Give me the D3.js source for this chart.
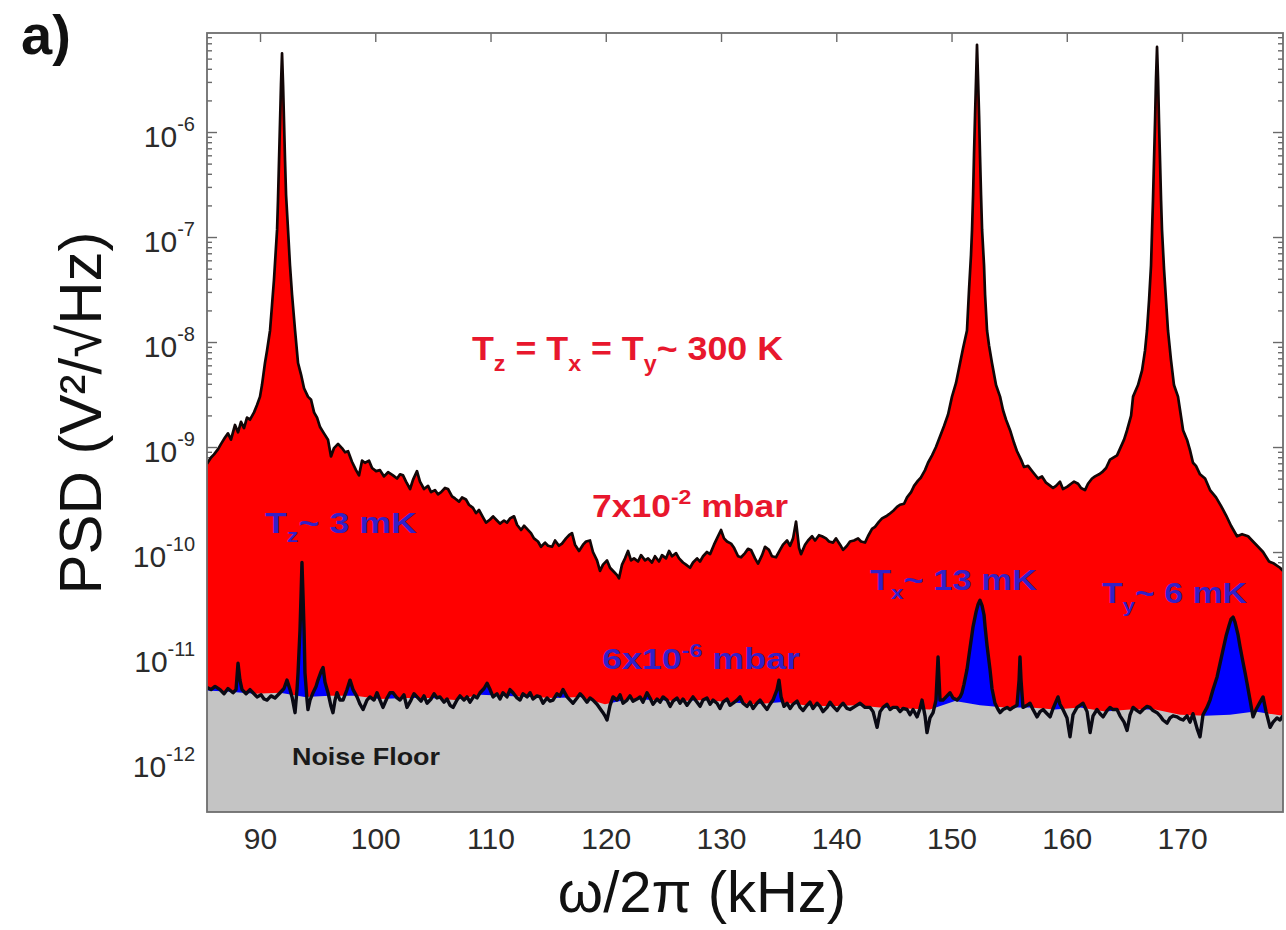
<!DOCTYPE html>
<html>
<head>
<meta charset="utf-8">
<script src="https://cdn.jsdelivr.net/npm/d3@7"></script>
<style>
  html, body { margin: 0; padding: 0; background: #fff; }
  svg { display: block; }
</style>
</head>
<body>
<svg id="chart" width="1286" height="930"></svg>
<script>
// ---------------------------------------------------------------------------
// Power spectral density of the trapped particle, three motional modes (z, x, y)
// PSD values are stored as log10(PSD / (V²/√Hz)); frequencies in kHz.
// ---------------------------------------------------------------------------

// Spectrum at 7x10^-2 mbar (room-temperature motion)
const redFreq = [
  85.40,85.75,86.01,86.36,86.62,86.96,87.22,87.48,87.83,88.09,
  88.35,88.61,88.87,89.13,89.48,89.74,90.00,90.17,90.43,90.61,
  90.87,91.04,91.21,91.48,91.56,91.65,91.74,91.82,91.91,92.00,
  92.08,92.17,92.26,92.43,92.60,92.78,93.04,93.30,93.56,93.82,
  94.16,94.43,94.69,94.95,95.21,95.55,95.90,96.16,96.42,96.77,
  97.11,97.38,97.64,97.98,98.33,98.59,98.85,99.11,99.46,99.72,
  100.07,100.41,100.76,101.11,101.54,101.89,102.15,102.41,102.67,103.02,
  103.28,103.62,103.88,104.23,104.58,104.84,105.18,105.44,105.71,106.05,
  106.31,106.66,106.92,107.27,107.53,107.87,108.13,108.48,108.74,109.00,
  109.35,109.61,109.96,110.22,110.56,110.82,111.17,111.43,111.69,112.04,
  112.30,112.65,112.91,113.17,113.51,113.77,114.12,114.38,114.73,114.99,
  115.34,115.60,115.94,116.20,116.55,116.81,117.07,117.33,117.68,118.03,
  118.29,118.63,118.89,119.24,119.50,119.76,120.11,120.37,120.72,120.98,
  121.15,121.41,121.67,121.93,122.19,122.45,122.80,123.06,123.41,123.67,
  124.01,124.27,124.62,124.88,125.23,125.49,125.75,126.10,126.36,126.70,
  126.96,127.31,127.57,127.92,128.18,128.44,128.78,129.05,129.39,129.65,
  130.00,130.26,130.52,130.87,131.13,131.48,131.74,132.08,132.34,132.60,
  132.95,133.21,133.56,133.82,134.16,134.42,134.77,135.12,135.38,135.73,
  135.99,136.25,136.51,136.77,136.94,137.29,137.55,137.90,138.16,138.50,
  138.76,139.11,139.37,139.72,139.98,140.33,140.59,140.93,141.19,141.54,
  141.89,142.15,142.49,142.75,143.10,143.36,143.71,143.97,144.32,144.58,
  144.92,145.27,145.53,145.88,146.14,146.49,146.75,147.09,147.35,147.70,
  147.96,148.31,148.65,149.00,149.35,149.70,150.04,150.39,150.74,151.00,
  151.34,151.52,151.69,151.78,151.87,151.95,152.04,152.13,152.21,152.30,
  152.39,152.47,152.56,152.65,152.82,152.91,153.08,153.25,153.51,153.86,
  154.21,154.47,154.73,155.08,155.42,155.68,156.03,156.29,156.64,157.07,
  157.51,157.85,158.20,158.46,158.81,159.07,159.41,159.67,160.02,160.37,
  160.63,160.98,161.24,161.58,161.84,162.19,162.45,162.80,163.06,163.41,
  163.75,164.36,164.97,165.23,165.58,165.75,166.18,166.53,166.79,166.96,
  167.14,167.31,167.40,167.48,167.57,167.66,167.74,167.83,167.92,168.00,
  168.09,168.18,168.26,168.44,168.61,168.78,169.04,169.30,169.65,169.83,
  170.09,170.43,170.69,170.95,171.21,171.56,172.00,172.43,172.95,173.38,
  173.82,174.25,174.77,175.21,175.73,176.16,176.60,177.03,177.55,177.98,178.50,178.76
];
const redLogPSD = [
  -9.16,-9.10,-9.07,-9.02,-8.97,-8.91,-8.87,-8.93,-8.79,-8.86,
  -8.76,-8.82,-8.72,-8.74,-8.67,-8.60,-8.52,-8.41,-8.20,-8.08,
  -7.89,-7.65,-7.41,-6.93,-6.65,-6.27,-5.89,-5.55,-5.25,-5.55,
  -5.89,-6.27,-6.60,-6.93,-7.27,-7.55,-7.89,-8.20,-8.31,-8.44,
  -8.52,-8.55,-8.67,-8.72,-8.81,-8.87,-8.93,-9.09,-9.01,-8.97,
  -9.01,-9.05,-9.04,-9.14,-9.22,-9.27,-9.13,-9.15,-9.13,-9.20,
  -9.23,-9.22,-9.28,-9.24,-9.27,-9.30,-9.26,-9.27,-9.33,-9.40,
  -9.31,-9.23,-9.33,-9.40,-9.37,-9.43,-9.41,-9.45,-9.43,-9.39,
  -9.40,-9.47,-9.49,-9.52,-9.48,-9.50,-9.55,-9.58,-9.63,-9.60,
  -9.67,-9.72,-9.69,-9.66,-9.70,-9.73,-9.70,-9.72,-9.68,-9.66,
  -9.74,-9.79,-9.75,-9.78,-9.82,-9.87,-9.90,-9.95,-9.91,-9.94,
  -9.95,-9.89,-9.94,-9.92,-9.87,-9.84,-9.82,-9.93,-9.99,-9.93,
  -9.90,-9.89,-10.00,-10.08,-10.18,-10.12,-10.08,-10.15,-10.19,-10.22,
  -10.25,-10.12,-10.06,-9.99,-10.08,-10.06,-10.09,-10.03,-10.08,-10.06,
  -10.10,-10.04,-10.09,-10.03,-10.06,-9.99,-10.04,-10.01,-10.06,-10.10,
  -10.12,-10.15,-10.10,-10.06,-10.09,-10.04,-10.00,-10.02,-9.93,-9.87,
  -9.79,-9.87,-9.90,-9.92,-9.96,-10.04,-10.05,-10.01,-9.97,-9.98,
  -10.06,-10.11,-10.03,-9.95,-9.98,-10.04,-10.05,-9.98,-9.93,-9.89,
  -9.94,-9.87,-9.71,-9.96,-10.02,-9.93,-9.89,-9.85,-9.89,-9.84,
  -9.85,-9.87,-9.90,-9.91,-9.87,-9.93,-9.98,-9.94,-9.90,-9.89,
  -9.87,-9.90,-9.91,-9.85,-9.78,-9.76,-9.71,-9.68,-9.66,-9.64,
  -9.61,-9.57,-9.55,-9.54,-9.48,-9.43,-9.37,-9.32,-9.29,-9.22,
  -9.15,-9.08,-9.00,-8.90,-8.80,-8.69,-8.52,-8.39,-8.20,-8.06,
  -7.89,-7.50,-7.17,-6.93,-6.60,-6.22,-5.84,-5.49,-5.17,-5.49,
  -5.84,-6.22,-6.60,-6.93,-7.27,-7.55,-7.89,-8.03,-8.20,-8.41,
  -8.52,-8.65,-8.74,-8.84,-8.96,-9.04,-9.12,-9.19,-9.18,-9.24,
  -9.30,-9.28,-9.34,-9.36,-9.39,-9.37,-9.33,-9.40,-9.38,-9.35,
  -9.33,-9.35,-9.39,-9.41,-9.35,-9.30,-9.28,-9.26,-9.24,-9.20,
  -9.12,-9.08,-8.93,-8.84,-8.70,-8.52,-8.41,-8.27,-8.08,-7.89,
  -7.60,-7.27,-6.93,-6.65,-6.27,-5.89,-5.50,-5.19,-5.50,-5.89,
  -6.27,-6.65,-6.93,-7.31,-7.60,-7.89,-8.17,-8.41,-8.52,-8.65,
  -8.84,-8.93,-9.03,-9.15,-9.18,-9.26,-9.30,-9.41,-9.48,-9.56,
  -9.65,-9.75,-9.85,-9.83,-9.85,-9.90,-9.95,-10.00,-10.09,-10.11,-10.15,-10.18
];

// Spectrum at 6x10^-6 mbar (feedback-cooled motion)
const blueFreq = [
  85.40,85.75,86.10,86.53,86.88,87.22,87.66,87.92,88.09,88.26,
  88.44,88.79,89.13,89.39,89.74,90.09,90.35,90.61,90.95,91.30,
  91.74,92.08,92.34,92.60,92.78,93.04,93.21,93.30,93.47,93.56,
  93.64,93.73,93.82,93.90,94.08,94.16,94.34,94.60,94.86,95.03,
  95.29,95.47,95.64,95.90,96.16,96.33,96.51,96.68,96.94,97.20,
  97.55,97.81,98.07,98.42,98.68,98.94,99.28,99.54,99.89,100.15,
  100.41,100.67,101.02,101.28,101.54,101.89,102.15,102.49,102.75,103.10,
  103.36,103.62,103.97,104.23,104.49,104.84,105.10,105.36,105.62,105.97,
  106.23,106.49,106.75,107.09,107.35,107.70,107.96,108.22,108.57,108.83,
  109.09,109.44,109.70,109.96,110.22,110.56,110.82,111.08,111.43,111.69,
  111.95,112.30,112.56,112.82,113.17,113.43,113.69,114.03,114.30,114.56,
  114.90,115.16,115.42,115.77,116.03,116.29,116.64,116.90,117.16,117.51,
  117.77,118.03,118.37,118.63,118.89,119.24,119.50,119.76,119.93,120.11,
  120.37,120.63,120.98,121.24,121.50,121.84,122.10,122.36,122.71,122.97,
  123.23,123.58,123.84,124.10,124.45,124.71,124.97,125.31,125.58,125.84,
  126.18,126.44,126.70,127.05,127.31,127.57,127.92,128.18,128.44,128.78,
  129.05,129.31,129.65,129.91,130.17,130.52,130.78,131.04,131.39,131.65,
  131.91,132.26,132.52,132.78,133.12,133.38,133.64,133.99,134.25,134.51,
  134.86,135.03,135.21,135.47,135.73,135.99,136.25,136.60,136.86,137.12,
  137.46,137.72,137.98,138.33,138.59,138.85,139.20,139.46,139.72,140.07,
  140.33,140.59,140.93,141.19,141.63,142.06,142.49,142.93,143.19,143.54,
  143.80,144.06,144.40,144.66,144.92,145.27,145.53,145.79,146.14,146.40,
  146.66,147.01,147.27,147.44,147.70,147.87,148.13,148.40,148.65,148.83,
  149.00,149.26,149.61,149.87,150.13,150.48,150.74,150.91,151.08,151.34,
  151.61,151.87,152.13,152.30,152.47,152.65,152.82,152.91,153.08,153.34,
  153.51,153.77,154.04,154.21,154.47,154.82,155.08,155.34,155.68,155.86,
  155.94,156.03,156.20,156.55,156.81,157.07,157.42,157.68,157.94,158.29,
  158.55,158.81,159.24,159.41,159.67,160.02,160.28,160.54,160.89,161.15,
  161.41,161.76,162.02,162.28,162.62,162.89,163.15,163.49,163.75,164.01,
  164.36,164.62,164.97,165.23,165.49,165.75,166.10,166.36,166.62,166.96,
  167.22,167.48,167.83,168.09,168.35,168.70,168.96,169.22,169.57,169.83,
  170.09,170.43,170.69,170.95,171.30,171.56,171.82,172.17,172.43,172.69,
  173.04,173.30,173.56,173.82,174.08,174.25,174.43,174.60,174.86,175.03,
  175.29,175.47,175.64,175.90,176.16,176.42,176.77,177.03,177.29,177.64,177.90,178.24,178.50,178.76
];
const blueLogPSD = [
  -11.29,-11.31,-11.28,-11.31,-11.35,-11.30,-11.34,-11.31,-11.06,-11.22,
  -11.31,-11.35,-11.31,-11.34,-11.38,-11.36,-11.40,-11.41,-11.37,-11.39,
  -11.34,-11.30,-11.22,-11.31,-11.38,-11.53,-11.31,-11.15,-10.74,-10.41,
  -10.10,-10.41,-10.74,-11.15,-11.41,-11.50,-11.41,-11.34,-11.28,-11.22,
  -11.14,-11.10,-11.24,-11.34,-11.47,-11.53,-11.41,-11.34,-11.41,-11.41,
  -11.31,-11.22,-11.31,-11.38,-11.45,-11.50,-11.41,-11.38,-11.41,-11.34,
  -11.41,-11.48,-11.39,-11.34,-11.34,-11.39,-11.41,-11.36,-11.48,-11.41,
  -11.35,-11.38,-11.42,-11.37,-11.44,-11.40,-11.35,-11.39,-11.38,-11.43,
  -11.40,-11.46,-11.48,-11.41,-11.37,-11.41,-11.38,-11.43,-11.37,-11.39,
  -11.34,-11.30,-11.25,-11.31,-11.38,-11.35,-11.40,-11.34,-11.38,-11.31,
  -11.34,-11.39,-11.41,-11.35,-11.38,-11.34,-11.40,-11.37,-11.38,-11.44,
  -11.39,-11.42,-11.41,-11.35,-11.37,-11.31,-11.38,-11.41,-11.44,-11.39,
  -11.35,-11.38,-11.43,-11.39,-11.41,-11.45,-11.49,-11.53,-11.56,-11.60,
  -11.46,-11.38,-11.41,-11.36,-11.44,-11.41,-11.37,-11.42,-11.40,-11.38,
  -11.43,-11.34,-11.39,-11.45,-11.40,-11.43,-11.38,-11.41,-11.47,-11.42,
  -11.39,-11.44,-11.40,-11.46,-11.42,-11.38,-11.43,-11.47,-11.41,-11.39,
  -11.45,-11.41,-11.44,-11.49,-11.43,-11.40,-11.46,-11.44,-11.41,-11.38,
  -11.44,-11.47,-11.43,-11.49,-11.44,-11.41,-11.45,-11.50,-11.45,-11.41,
  -11.31,-11.22,-11.38,-11.47,-11.44,-11.49,-11.45,-11.42,-11.48,-11.51,
  -11.46,-11.43,-11.49,-11.44,-11.47,-11.52,-11.48,-11.43,-11.47,-11.51,
  -11.47,-11.44,-11.49,-11.50,-11.47,-11.44,-11.48,-11.48,-11.52,-11.67,
  -11.52,-11.48,-11.45,-11.50,-11.48,-11.48,-11.52,-11.49,-11.50,-11.55,
  -11.50,-11.57,-11.49,-11.41,-11.56,-11.72,-11.58,-11.53,-11.41,-11.00,
  -11.41,-11.41,-11.37,-11.34,-11.39,-11.41,-11.38,-11.34,-11.26,-11.12,
  -10.91,-10.71,-10.57,-10.50,-10.46,-10.51,-10.60,-10.71,-10.89,-11.12,
  -11.30,-11.44,-11.50,-11.53,-11.50,-11.48,-11.50,-11.48,-11.46,-11.22,
  -11.00,-11.22,-11.48,-11.46,-11.44,-11.50,-11.57,-11.52,-11.50,-11.54,
  -11.57,-11.49,-11.38,-11.45,-11.50,-11.58,-11.76,-11.55,-11.48,-11.46,
  -11.44,-11.52,-11.72,-11.56,-11.50,-11.54,-11.57,-11.51,-11.48,-11.50,
  -11.50,-11.56,-11.62,-11.70,-11.55,-11.48,-11.51,-11.53,-11.50,-11.47,
  -11.48,-11.51,-11.53,-11.56,-11.60,-11.63,-11.58,-11.56,-11.57,-11.59,
  -11.60,-11.56,-11.62,-11.54,-11.68,-11.76,-11.55,-11.48,-11.41,-11.31,
  -11.19,-11.06,-10.93,-10.80,-10.70,-10.64,-10.62,-10.67,-10.79,-10.90,
  -11.05,-11.15,-11.25,-11.41,-11.57,-11.50,-11.43,-11.38,-11.52,-11.67,-11.62,-11.58,-11.60,-11.56
];

// Detector noise floor
const floorFreq = [
  85.40,87.40,89.57,91.74,93.90,96.07,98.24,100.41,102.58,104.75,
  106.92,109.09,111.26,113.43,115.60,117.77,119.93,122.10,124.27,126.44,
  128.61,130.78,132.95,135.12,137.29,139.46,141.63,143.80,145.97,148.13,
  150.30,152.47,154.64,156.81,158.98,161.15,163.32,165.49,167.66,169.83,
  172.00,174.16,176.33,178.76
];
const floorLogPSD = [
  -11.32,-11.33,-11.35,-11.34,-11.38,-11.37,-11.37,-11.40,-11.39,-11.39,
  -11.41,-11.36,-11.37,-11.38,-11.39,-11.38,-11.45,-11.40,-11.41,-11.42,
  -11.41,-11.43,-11.45,-11.43,-11.46,-11.47,-11.46,-11.48,-11.49,-11.50,
  -11.42,-11.46,-11.48,-11.48,-11.50,-11.48,-11.52,-11.50,-11.50,-11.55,
  -11.56,-11.55,-11.52,-11.56
];

// Axes
const xDomain = [85.4, 178.76];          // kHz
const yDomain = [3.342e-13, 8.77e-6];    // V²/√Hz
const xTickValues = [90, 100, 110, 120, 130, 140, 150, 160, 170];
const yTickExponents = [-12, -11, -10, -9, -8, -7, -6];
const xLabel = "ω/2π (kHz)";
const yLabel = "PSD (V²/√Hz)";
const panelTag = "a)";

// Annotations: pieces of text, with sub/superscripts
const labelHot = [{t:"T"},{t:"z",sub:1},{t:" = T"},{t:"x",sub:1},{t:" = T"},{t:"y",sub:1},{t:"~ 300 K"}];
const labelHighP = [{t:"7x10"},{t:"-2",sup:1},{t:" mbar"}];
const labelLowP = [{t:"6x10"},{t:"-6",sup:1},{t:" mbar"}];
const labelZ = [{t:"T"},{t:"z",sub:1},{t:"~ 3 mK"}];
const labelX = [{t:"T"},{t:"x",sub:1},{t:"~ 13 mK"}];
const labelY = [{t:"T"},{t:"y",sub:1},{t:"~ 6 mK"}];
const labelFloor = [{t:"Noise Floor"}];

// ---------------------------------------------------------------------------
const FONT = "'Liberation Sans', Arial, Helvetica, sans-serif";
const W = 1286, H = 930;
const plot = { left: 207, right: 1283, top: 33, bottom: 812 };

const x = d3.scaleLinear().domain(xDomain).range([plot.left, plot.right]);
const y = d3.scaleLog().domain(yDomain).range([plot.bottom, plot.top]);

const toSeries = (fs, ls) => fs.map((f, i) => ({ f, p: Math.pow(10, ls[i]) }));
const redData = toSeries(redFreq, redLogPSD);
const blueData = toSeries(blueFreq, blueLogPSD);
const floorData = toSeries(floorFreq, floorLogPSD);

const svg = d3.select("#chart");
svg.append("rect").attr("width", W).attr("height", H).attr("fill", "#fff");

svg.append("defs").append("clipPath").attr("id", "plotClip")
  .append("rect")
  .attr("x", plot.left).attr("y", plot.top)
  .attr("width", plot.right - plot.left).attr("height", plot.bottom - plot.top);

// ---- axes (drawn first, so the filled spectra sit above the inner ticks) ----
const majorY = yTickExponents.map(e => Math.pow(10, e));
const minorY = [];
for (let e = -13; e <= -6; e++) {
  for (let m = 2; m <= 9; m++) {
    const v = m * Math.pow(10, e);
    if (v >= yDomain[0] && v <= yDomain[1]) minorY.push(v);
  }
}

function styleAxis(g) {
  g.attr("font-family", FONT).attr("color", "#6a6a6a");
  g.select(".domain").remove();
  g.selectAll(".tick line").attr("stroke-width", 1.4);
}

// bottom: labels + inward ticks
const gBottom = svg.append("g")
  .attr("transform", `translate(0,${plot.bottom})`)
  .call(d3.axisBottom(x).tickValues(xTickValues).tickSize(-9).tickPadding(16).tickFormat(d3.format("d")))
  .call(styleAxis);
gBottom.selectAll(".tick text").attr("font-size", 30).attr("fill", "#2b2b2b");

// top: ticks only
svg.append("g")
  .attr("transform", `translate(0,${plot.top})`)
  .call(d3.axisTop(x).tickValues(xTickValues).tickSize(-9).tickFormat(""))
  .call(styleAxis);

// left: decade labels 10^n
const gLeft = svg.append("g")
  .attr("transform", `translate(${plot.left},0)`)
  .call(d3.axisLeft(y).tickValues(majorY).tickSize(-10).tickPadding(12).tickFormat(""))
  .call(styleAxis);
gLeft.selectAll(".tick text").each(function (d) {
  const t = d3.select(this);
  t.text(null).attr("dy", null).attr("y", 14).attr("font-size", 30).attr("fill", "#2b2b2b");
  t.append("tspan").text("10");
  t.append("tspan").attr("dy", -16).attr("font-size", 20).text(String(Math.round(Math.log10(d))));
});
svg.append("g")
  .attr("transform", `translate(${plot.left},0)`)
  .call(d3.axisLeft(y).tickValues(minorY).tickSize(-5).tickFormat(""))
  .call(styleAxis);

// right: inward ticks
svg.append("g")
  .attr("transform", `translate(${plot.right},0)`)
  .call(d3.axisRight(y).tickValues(majorY).tickSize(-10).tickFormat(""))
  .call(styleAxis);
svg.append("g")
  .attr("transform", `translate(${plot.right},0)`)
  .call(d3.axisRight(y).tickValues(minorY).tickSize(-5).tickFormat(""))
  .call(styleAxis);

// ---- spectra ----
const gData = svg.append("g").attr("clip-path", "url(#plotClip)");

const area = d3.area().x(d => x(d.f)).y0(plot.bottom).y1(d => y(d.p));
const line = d3.line().x(d => x(d.f)).y(d => y(d.p));

gData.append("path").datum(redData).attr("d", area).attr("fill", "#ff0000");
gData.append("path").datum(blueData).attr("d", area).attr("fill", "#0000ff");
gData.append("path").datum(floorData).attr("d", area).attr("fill", "#c4c4c4");

gData.append("path").datum(redData).attr("d", line)
  .attr("fill", "none").attr("stroke", "#120606").attr("stroke-width", 2.7)
  .attr("stroke-linejoin", "round");
gData.append("path").datum(blueData).attr("d", line)
  .attr("fill", "none").attr("stroke", "#0a0a14").attr("stroke-width", 3.4)
  .attr("stroke-linejoin", "round");

// frame
svg.append("rect")
  .attr("x", plot.left).attr("y", plot.top)
  .attr("width", plot.right - plot.left).attr("height", plot.bottom - plot.top)
  .attr("fill", "none").attr("stroke", "#6e6e6e").attr("stroke-width", 1.8);

// ---- text ----
function richText(parent, px, py, parts, o) {
  const t = parent.append("text")
    .attr("x", px).attr("y", py)
    .attr("font-family", FONT)
    .attr("font-weight", o.weight || "bold")
    .attr("font-size", o.size)
    .attr("fill", o.color);
  if (o.length) t.attr("textLength", o.length).attr("lengthAdjust", "spacingAndGlyphs");
  let shift = 0;
  parts.forEach(p => {
    const target = p.sub ? o.size * 0.32 : p.sup ? -o.size * 0.42 : 0;
    const s = t.append("tspan").attr("dy", target - shift).text(p.t);
    if (p.sub || p.sup) s.attr("font-size", o.size * 0.65);
    shift = target;
  });
  return t;
}

const RED_TXT = "#e8172d", BLUE_TXT = "#3320c8";
richText(svg, 472, 360, labelHot,   { size: 34, color: RED_TXT, length: 311 });
richText(svg, 592, 517, labelHighP, { size: 31, color: RED_TXT, length: 196 });
richText(svg, 265, 533, labelZ,     { size: 29, color: BLUE_TXT, length: 152 });
richText(svg, 602, 669, labelLowP,  { size: 29, color: BLUE_TXT, length: 198 });
richText(svg, 870, 590, labelX,     { size: 29, color: BLUE_TXT, length: 167 });
richText(svg, 1102, 603, labelY,    { size: 29, color: BLUE_TXT, length: 145 });
richText(svg, 292, 765, labelFloor, { size: 24, color: "#1a1a1a", length: 148 });

// axis titles and panel tag
svg.append("text")
  .attr("transform", "translate(101,413) rotate(-90)")
  .attr("text-anchor", "middle")
  .attr("font-family", FONT).attr("font-size", 60).attr("fill", "#111")
  .text(yLabel);

svg.append("text")
  .attr("x", 702).attr("y", 912)
  .attr("text-anchor", "middle")
  .attr("font-family", FONT).attr("font-size", 58).attr("fill", "#111")
  .text(xLabel);

svg.append("text")
  .attr("x", 21).attr("y", 54)
  .attr("font-family", FONT).attr("font-weight", "bold").attr("font-size", 56).attr("fill", "#111")
  .text(panelTag);
</script>
</body>
</html>
